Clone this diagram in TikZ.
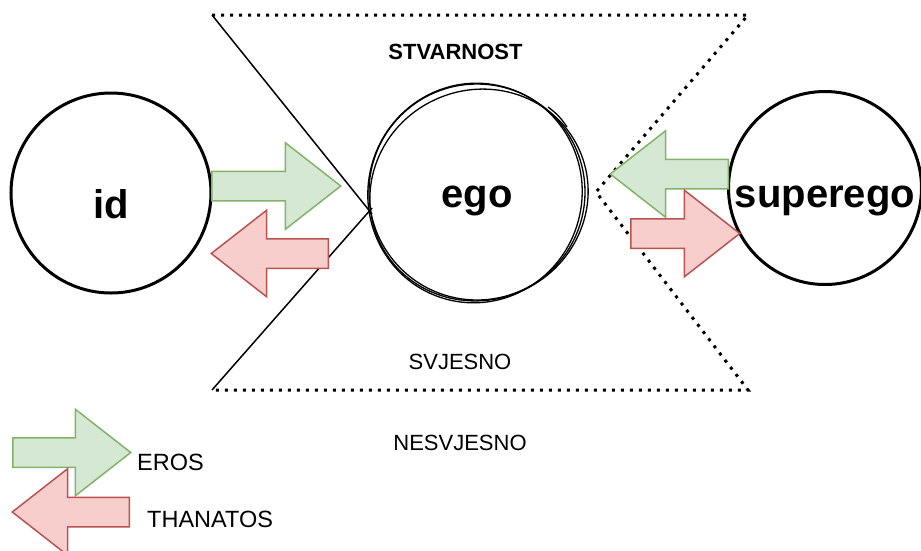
\documentclass[tikz,border=0pt]{standalone}
\usepackage{fontspec}
\setmainfont{Liberation Sans}
\usetikzlibrary{shapes.arrows}

\definecolor{erosfill}{HTML}{D5E8D4}
\definecolor{erosline}{HTML}{82B366}
\definecolor{thanfill}{HTML}{F8CECC}
\definecolor{thanline}{HTML}{B85450}

\tikzset{
    psyche/.style={circle, draw, line width=3pt, inner sep=0pt, text depth=0pt, font=\fontsize{40}{48}\selectfont\bfseries},
    blockarrow/.style={single arrow, line width=1.5pt, inner xsep=0pt, inner ysep=14pt,
        minimum width=85pt, single arrow head extend=28.5pt, single arrow tip angle=76, anchor=tail},
    eros/.style={blockarrow, draw=erosline, fill=erosfill},
    thanatos/.style={blockarrow, draw=thanline, fill=thanfill},
    dotline/.style={line width=3pt, dash pattern=on 3pt off 6pt},
    label/.style={font=\fontsize{22}{26}\selectfont},
    legend/.style={font=\fontsize{23.5}{28}\selectfont, anchor=west, inner sep=0pt},
}

\begin{document}
\begin{tikzpicture}[x=1pt, y=-1pt]
    \useasboundingbox (0,0) rectangle (921,550);

    % borders of reality
    \draw[dotline] (212,15) -- (748,15) -- (596,192) -- (748,390) -- (212,390);
    \draw[line width=1.5pt] (212,15) -- (372,214);
    \draw[line width=1.5pt] (212,390) -- (372,208);

    \node [psyche, text height=50pt, minimum size=200pt](id) at (111,193){id};
    \node [psyche, text height=30pt, line width=1.3pt, minimum size=216pt](ego) at (477,192){ego};
    \node [psyche, text height=38pt, minimum size=193pt](super) at (825,188){superego};

    % sketchy outline of ego
    \draw[line width=1.3pt] ([shift={(2,3)}]ego.center) ellipse [x radius=110pt, y radius=105pt, rotate=25];
    \draw[line width=1.3pt] ([shift={(-2,1)}]ego.center) ellipse [x radius=107pt, y radius=110pt, rotate=-15];
    \draw[line width=1.3pt] (548,107) to[bend left=10] (567,127);

    \node [eros, minimum height=129pt](a1) at (211,186){};
    \node [thanatos, shape border rotate=180, minimum height=117pt](a2) at (329,253.5){};
    \node [eros, shape border rotate=180, minimum height=118pt](a3) at (729,174){};
    \node [thanatos, minimum height=109pt](a4) at (630,233.5){};

    \node [font=\fontsize{22}{26}\selectfont\bfseries](real) at (455.5,52){STVARNOST};
    \node [label](conscious) at (460,362){SVJESNO};
    \node [label](unconscious) at (460,443){NESVJESNO};

    % legend
    \node [eros, minimum height=118pt](l1) at (12,452.5){};
    \node [thanatos, shape border rotate=180, minimum height=117pt](l2) at (130,512){};
    \node [legend](erostext) at (137,462){EROS};
    \node [legend](thantext) at (147,519){THANATOS};
\end{tikzpicture}
\end{document}
